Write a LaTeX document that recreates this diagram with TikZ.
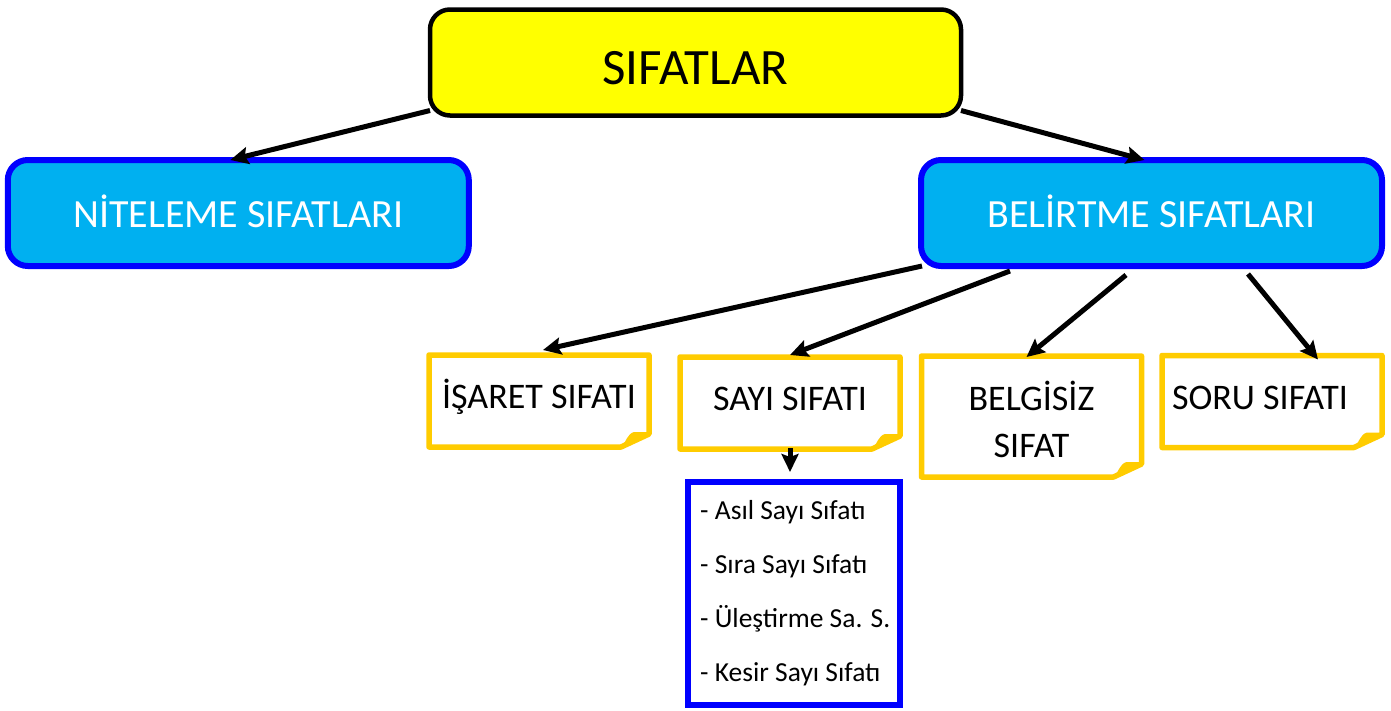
\documentclass[tikz,border=0pt]{standalone}
\usepackage{fontspec}
\setmainfont{Carlito}
\usetikzlibrary{arrows.meta,calc}
\definecolor{titley}{HTML}{FFFF00}
\definecolor{cyanf}{HTML}{00B0F0}
\definecolor{blueb}{HTML}{0000FF}
\definecolor{notey}{HTML}{FFCC00}
\newcommand\notedraw[1]{%
  \draw[noteline] (#1.north west) -- (#1.north east) -- ([yshift=13pt]#1.south east)
    -- ([xshift=-28pt]#1.south east) -- (#1.south west) -- cycle;
  \fill[notey] ([xshift=-28pt]#1.south east)
    .. controls ([xshift=-22pt,yshift=6pt]#1.south east) and ([xshift=-22pt,yshift=13pt]#1.south east)
    .. ([xshift=-15pt,yshift=15pt]#1.south east) -- ([yshift=15pt]#1.south east)
    -- ([yshift=13pt]#1.south east) -- cycle;
}
\begin{document}
\begin{tikzpicture}[x=1pt,y=-1pt,
  titlebox/.style={draw=black, fill=titley, line width=4.5pt, rounded corners=20pt,
    minimum width=531pt, minimum height=106pt, inner sep=0pt, outer sep=0pt,
    font=\fontsize{51}{60}\selectfont, text height=43pt, text depth=0pt},
  mainbox/.style={draw=blueb, fill=cyanf, line width=6pt, rounded corners=20pt,
    minimum width=461pt, minimum height=106pt, inner sep=0pt, outer sep=0pt,
    text=white, font=\fontsize{40}{48}\selectfont, text height=28pt, text depth=0pt},
  notebox/.style={minimum width=220pt, minimum height=92pt, inner sep=0pt, outer sep=0pt,
    font=\fontsize{36}{47}\selectfont},
  notetext/.style={text height=23pt, text depth=8pt},
  noteline/.style={draw=notey, line width=5.5pt, line join=round},
  listbox/.style={draw=blueb, line width=5.5pt, minimum width=212pt, minimum height=223pt,
    inner sep=0pt, outer sep=0pt},
  listitem/.style={anchor=base west, inner sep=0pt, font=\fontsize{27.5}{33}\selectfont},
  arr/.style={line width=5pt, -{Stealth[length=18pt,width=17pt,inset=3pt]}}
]
\useasboundingbox[fill=white] (0,0) rectangle (1391,710);

\node[titlebox] (sif) at (695.5,62.5) {SIFATLAR};
\node[mainbox] (nit) at (238.3,213) {NİTELEME SIFATLARI};
\node[mainbox] (bel) at (1151.5,213) {BELİRTME SIFATLARI};

\node[notebox,notetext] (isaret) at (539,401) {İŞARET SIFATI};
\node[notebox,notetext] (sayi) at (790,403) {SAYI SIFATI};
\node[notebox,minimum height=121pt,align=center] (belg) at (1031.5,416.5) {\rule{0pt}{36pt}BELGİSİZ\\SIFAT};
\node[notebox,notetext] (soru) at (1272,401.5) {SORU SIFATI\hspace*{24pt}};
\notedraw{isaret}
\notedraw{sayi}
\notedraw{belg}
\notedraw{soru}

\node[listbox] (liste) at (794,593.5) {};
\node[listitem] (l1) at (700,519) {- Asıl Sayı Sıfatı};
\node[listitem] (l2) at (700,573) {- Sıra Sayı Sıfatı};
\node[listitem] (l3) at (700,627) {- Üleştirme Sa. S.};
\node[listitem] (l4) at (700,681) {- Kesir Sayı Sıfatı};

\coordinate (a1) at ([yshift=5pt]sif.south west);
\coordinate (a2) at ([yshift=5pt]sif.south east);
\draw[arr] (a1) -- ([xshift=-8pt]nit.north);
\draw[arr] (a2) -- ([xshift=-7pt]bel.north);

\coordinate (b1) at ([xshift=1pt]bel.south west);
\coordinate (b2) at ([xshift=89pt,yshift=-5pt]bel.south west);
\coordinate (b3) at ([xshift=205pt,yshift=-9pt]bel.south west);
\coordinate (b4) at ([xshift=327pt,yshift=-8pt]bel.south west);
\draw[arr] (b1) -- ([xshift=4pt,yshift=5pt]isaret.north);
\draw[arr] (b2) -- ([yshift=2pt]sayi.north);
\draw[arr] (b3) -- ([xshift=-5pt,yshift=-1pt]belg.north);
\draw[arr] (b4) -- ([xshift=46pt,yshift=-4pt]soru.north);

\coordinate (lt) at ([yshift=10pt]liste.north);
\draw[arr] ([yshift=1pt]sayi.south) -- (sayi.south |- lt);
\end{tikzpicture}
\end{document}
